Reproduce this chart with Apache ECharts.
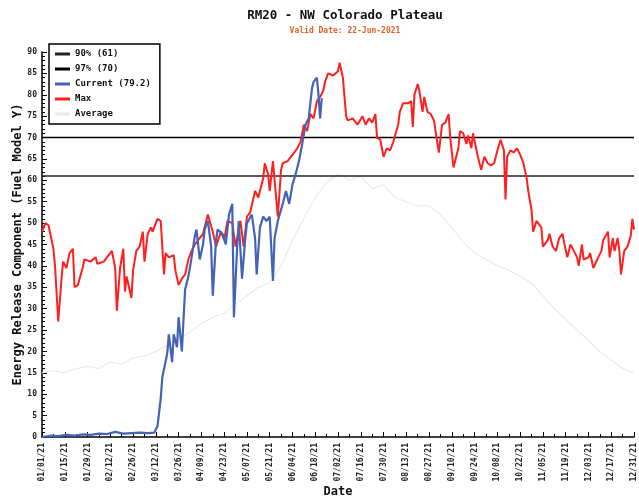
<!DOCTYPE html>
<html>
<head>
<meta charset="utf-8">
<script src="https://cdn.jsdelivr.net/npm/echarts@6/dist/echarts.min.js"></script>
<style>html,body{margin:0;padding:0;background:#fff}#c{width:639px;height:499px}</style>
</head>
<body>
<div id="c"></div>
<script>
// Tick labels (every 14 days, day index 0 = Jan 1 2021)
const tickLabels = ['01/01/21','01/15/21','01/29/21','02/12/21','02/26/21','03/12/21','03/26/21','04/09/21','04/23/21','05/07/21','05/21/21','06/04/21','06/18/21','07/02/21','07/16/21','07/30/21','08/13/21','08/27/21','09/10/21','09/24/21','10/08/21','10/22/21','11/05/21','11/19/21','12/03/21','12/17/21','12/31/21'];

// Max series (day index, value)
const maxDays = [0,2,4,7,8,10,12,13,15,17,19,20,22,25,26,30,33,34,38,41,43,45,46,48,50,51,52,55,56,58,60,62,63,65,67,68,71,73,75,76,78,81,82,84,86,88,90,92,94,96,99,102,105,107,110,112,114,117,119,122,124,126,128,131,133,136,137,139,140,142,145,147,148,151,153,155,157,159,161,163,165,167,169,171,173,174,176,179,182,183,185,187,188,191,194,197,199,201,203,205,206,208,210,212,214,216,219,220,222,225,227,228,229,231,232,234,235,237,239,241,243,244,246,248,250,251,253,256,257,259,261,262,264,265,268,270,272,274,276,278,280,282,284,285,286,288,290,292,294,296,298,299,301,302,304,307,308,311,312,314,316,318,320,321,323,325,327,329,330,332,333,336,337,339,342,344,345,348,349,351,352,354,355,356,358,360,362,363,364];
const maxVals = [48,50,49.5,44,40,27,37,41,39.5,43,44,35,35.5,39.5,41.5,41,42,40.5,41,42.5,43.5,39.5,29.5,39.5,44,34,37.5,32.5,39,43.5,44.5,48,41,47.5,49,48,51,50.5,38,43,42,42.5,39,35.5,37,38,41.5,43.5,45,46,47.5,52,48,44.5,48,46,50.5,50,44.5,50.5,44.5,51.5,52.5,57.5,56,60.5,64,61.5,57.5,64.5,51.5,62.5,64,64.5,65.5,66.5,67.5,69,73,71.5,75.5,74.5,78.5,79.5,81,83,85,84.5,85.5,87.5,84,75,74,74.5,73,75,73,74.5,73.5,75.5,70,69.5,65.5,67.5,67,69,73,76,78,78,78.5,72.5,80,82.5,81,76,79.5,76,75.5,74,69,66.5,73,73.5,75.5,70,63,67.5,71.5,71,68.5,70.5,67.5,71,65.5,62.5,65.5,64,63.5,64,67,69.5,67,55.5,65.5,67,66.5,67.5,66,64,60.5,57.5,53,48,50.5,49,44.5,46,47.5,44.5,43.5,46.5,47.5,45.5,42,45,43.5,42,40,45,41.5,42,43,39.5,42,43.5,46,48,42,46.5,43.5,46.5,43.5,38,43.5,44.5,47,51,48.5];

// Current series
const curDays = [0,5,10,15,20,25,30,35,40,45,50,55,60,65,69,71,73,74,77,78,80,81,83,84,86,87,88,90,92,94,95,97,99,100,102,104,105,107,108,111,113,115,117,118,120,121,123,125,126,129,131,132,134,136,138,140,142,143,145,148,150,152,154,156,158,160,162,164,166,167,169,170,171,172];
const curVals = [0,0.3,0.2,0.5,0.3,0.6,0.5,0.8,0.7,1.2,0.8,0.9,1,0.9,1,2.5,9,14,19.5,24,17.5,24,21,28,20,27.5,34.5,37.5,42,47,48.5,41.5,45,48.5,50.5,44.5,33,46,48.5,47.5,45,52,54.5,28,44.5,50.5,37,46.5,50,52,46.5,38,49,51.5,50.5,51.5,36.5,46.5,50.5,54.5,57.5,54.5,59,61.5,64.5,68.5,73,74.5,81.5,83,84,80,74.5,79.2];

// Average series
const avgDays = [0,7,14,21,28,35,42,49,56,63,70,77,84,91,98,105,112,119,126,133,140,147,154,161,168,175,182,189,196,203,210,217,224,231,238,245,252,259,266,273,280,287,294,301,308,315,322,329,336,343,350,357,364];
const avgVals = [15,15.5,15,16,16.5,16,17.5,17,18.5,19,20,21.5,23,24.5,26.5,28,29,31,33,35,36,40,46,51,56,59.5,61.5,60,61,58,59,56,55,54,54,52,49,45.5,43,41.5,40,39,37.5,36,33,30,27.5,25,22.5,20,18,16,15];

// Percentile thresholds
const p90 = 61;
const p97 = 70;
const lastDay = 364;

const pairs = (d, v) => d.map((x, i) => [x, v[i]]);
const font = 'DejaVu Sans Mono';

const chart = echarts.init(document.getElementById('c'), null, {renderer: 'canvas'});
chart.setOption({
  animation: false,
  backgroundColor: '#fff',
  title: {
    text: 'RM20 - NW Colorado Plateau',
    subtext: 'Valid Date: 22-Jun-2021',
    left: 340, top: 4, textAlign: 'center', itemGap: 5,
    textStyle: {fontFamily: font, fontWeight: 'bold', fontSize: 12.5, color: '#111'},
    subtextStyle: {fontFamily: font, fontWeight: 'bold', fontSize: 8, color: '#e0602a'}
  },
  legend: {
    orient: 'vertical', left: 49, top: 44,
    backgroundColor: '#fff', borderColor: '#000', borderWidth: 1.5,
    padding: [5, 9, 5, 6], itemGap: 5, itemWidth: 15, itemHeight: 3, icon: 'rect',
    textStyle: {fontFamily: font, fontWeight: 'bold', fontSize: 9, color: '#111', lineHeight: 10},
    data: ['90% (61)', '97% (70)', 'Current (79.2)', 'Max', 'Average']
  },
  grid: {left: 42, right: 5, top: 52, bottom: 62, outerBoundsMode: 'none', containLabel: false},
  xAxis: {
    type: 'value', min: 0, max: lastDay, interval: 14,
    name: 'Date', nameLocation: 'middle', nameGap: 49, nameMoveOverlap: false,
    nameTextStyle: {fontFamily: font, fontWeight: 'bold', fontSize: 12, color: '#111'},
    axisLine: {lineStyle: {color: '#000', width: 1.5}},
    axisTick: {inside: true, length: 5, lineStyle: {color: '#000'}},
    minorTick: {show: true, splitNumber: 2, length: 3, lineStyle: {color: '#000'}},
    splitLine: {show: false},
    axisLabel: {rotate: 90, margin: 6, fontFamily: font, fontWeight: 'bold', fontSize: 8, color: '#222',
      formatter: v => tickLabels[Math.round(v / 14)] || ''}
  },
  yAxis: {
    type: 'value', min: 0, max: 90, interval: 5,
    name: 'Energy Release Component (Fuel Model Y)', nameLocation: 'middle', nameGap: 18, nameMoveOverlap: false,
    nameTextStyle: {fontFamily: font, fontWeight: 'bold', fontSize: 12, color: '#111'},
    axisLine: {show: true, lineStyle: {color: '#000', width: 1.5}},
    axisTick: {show: true, inside: true, length: 5, lineStyle: {color: '#000'}},
    minorTick: {show: true, splitNumber: 5, length: 3, lineStyle: {color: '#000'}},
    splitLine: {show: false},
    axisLabel: {margin: 5, fontFamily: font, fontWeight: 'bold', fontSize: 8, color: '#222'}
  },
  series: [
    {name: 'Average', type: 'line', symbol: 'none', data: pairs(avgDays, avgVals),
      lineStyle: {color: '#ebebeb', width: 1.2}, itemStyle: {color: '#ebebeb'}, z: 1},
    {name: '90% (61)', type: 'line', symbol: 'none', data: [[0, p90], [lastDay, p90]],
      lineStyle: {color: '#222', width: 1.5}, itemStyle: {color: '#222'}, z: 2},
    {name: '97% (70)', type: 'line', symbol: 'none', data: [[0, p97], [lastDay, p97]],
      lineStyle: {color: '#000', width: 1.5}, itemStyle: {color: '#000'}, z: 2},
    {name: 'Max', type: 'line', symbol: 'none', data: pairs(maxDays, maxVals),
      lineStyle: {color: '#ff1f1f', width: 2}, itemStyle: {color: '#ff1f1f'}, z: 3},
    {name: 'Current (79.2)', type: 'line', symbol: 'none', data: pairs(curDays, curVals),
      lineStyle: {color: '#4563b5', width: 2.2}, itemStyle: {color: '#4563b5'}, z: 4}
  ]
});
</script>
</body>
</html>
